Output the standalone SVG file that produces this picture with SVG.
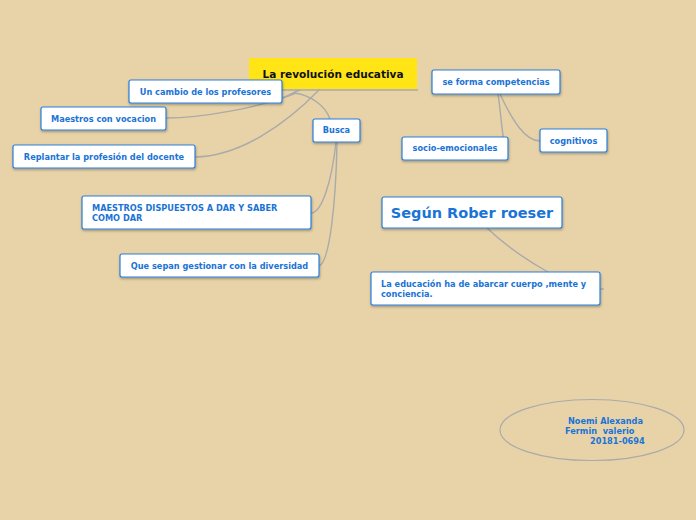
<svg xmlns="http://www.w3.org/2000/svg" width="696" height="520" viewBox="0 0 696 520">
<defs>
<filter id="sh" x="-10%" y="-20%" width="120%" height="150%"><feDropShadow dx="0.5" dy="1.5" stdDeviation="0.8" flood-color="#000" flood-opacity="0.3"/></filter>
</defs>
<style>
.n{fill:#fff;stroke:#2a7fd9;stroke-width:1.2;filter:url(#sh)}
.t{font-family:"DejaVu Sans",Verdana,sans-serif;font-weight:bold;font-size:8.2px;fill:#1a73d6}
.big{font-size:14.5px}
.pre{white-space:pre}
.c{fill:none;stroke:#aaa;stroke-width:1.4}
</style>
<rect width="696" height="520" fill="#e8d3a8"/>
<g id="connectors">
<path class="c" d="M300,90 C292,93 288,96 282,98"/>
<path class="c" d="M296,93 C260,108 200,118 166,118"/>
<path class="c" d="M320,89 C285,125 240,156 195,157"/>
<path class="c" d="M294,93 C310,95 325,105 330,119"/>
<path class="c" d="M336,142 C332,180 322,213 311,213"/>
<path class="c" d="M337,142 C336,200 330,262 319,266"/>
<path class="c" d="M498,94 C502,120 502,145 508,150"/>
<path class="c" d="M500,94 C512,120 525,141 540,141"/>
<path class="c" d="M487,228 C505,245 530,262 548,272"/>
<path class="c" d="M600,289 L604,289"/>
<path class="c" d="M249,90 L418,90"/>
</g>
<g id="title">
<rect x="249" y="58" width="168" height="31" fill="#ffe516"/>
<text x="333" y="78" text-anchor="middle" font-family="DejaVu Sans,Verdana,sans-serif" font-weight="bold" font-size="10.5" fill="#111">La revolución educativa</text>
</g>
<g id="n-cambio"><rect class="n" x="129" y="80" width="153" height="23" rx="2"/><text class="t" x="205.5" y="95" text-anchor="middle">Un cambio de los profesores</text></g>
<g id="n-vocacion"><rect class="n" x="41" y="107" width="125" height="23" rx="2"/><text class="t" x="103.5" y="122" text-anchor="middle">Maestros con vocacion</text></g>
<g id="n-replantar"><rect class="n" x="13" y="145" width="182" height="23" rx="2"/><text class="t" x="104" y="160" text-anchor="middle">Replantar la profesión del docente</text></g>
<g id="n-busca"><rect class="n" x="313" y="119" width="47" height="23" rx="2"/><text class="t" x="336.5" y="133" text-anchor="middle">Busca</text></g>
<g id="n-competencias"><rect class="n" x="432" y="70" width="128" height="24" rx="2"/><text class="t" x="496" y="85" text-anchor="middle">se forma competencias</text></g>
<g id="n-socio"><rect class="n" x="402" y="137" width="106" height="23" rx="2"/><text class="t" x="455" y="151" text-anchor="middle">socio-emocionales</text></g>
<g id="n-cognitivos"><rect class="n" x="540" y="129" width="67" height="23" rx="2"/><text class="t" x="573.5" y="144" text-anchor="middle">cognitivos</text></g>
<g id="n-segun"><rect class="n" x="382" y="197" width="180" height="31" rx="2"/><text class="t big" x="472" y="218" text-anchor="middle">Según Rober roeser</text></g>
<g id="n-maestros"><rect class="n" x="82" y="196" width="229" height="33" rx="2"/><text class="t" x="92" y="211">MAESTROS DISPUESTOS A DAR Y SABER</text><text class="t" x="92" y="221">COMO DAR</text></g>
<g id="n-diversidad"><rect class="n" x="120" y="254" width="199" height="23" rx="2"/><text class="t" x="219.5" y="269" text-anchor="middle">Que sepan gestionar con la diversidad</text></g>
<g id="n-educacion"><rect class="n" x="371" y="272" width="229" height="33" rx="2"/><text class="t" x="381" y="287">La educación ha de abarcar cuerpo ,mente y</text><text class="t" x="381" y="297">conciencia.</text></g>
<g id="n-autor">
<ellipse cx="592" cy="430" rx="92" ry="30.5" fill="none" stroke="#aaa" stroke-width="1.2"/>
<text class="t" x="568" y="424">Noemi Alexanda</text>
<text class="t pre" x="565" y="434">Fermin  valerio</text>
<text class="t" x="590" y="444">20181-0694</text>
</g>
</svg>
